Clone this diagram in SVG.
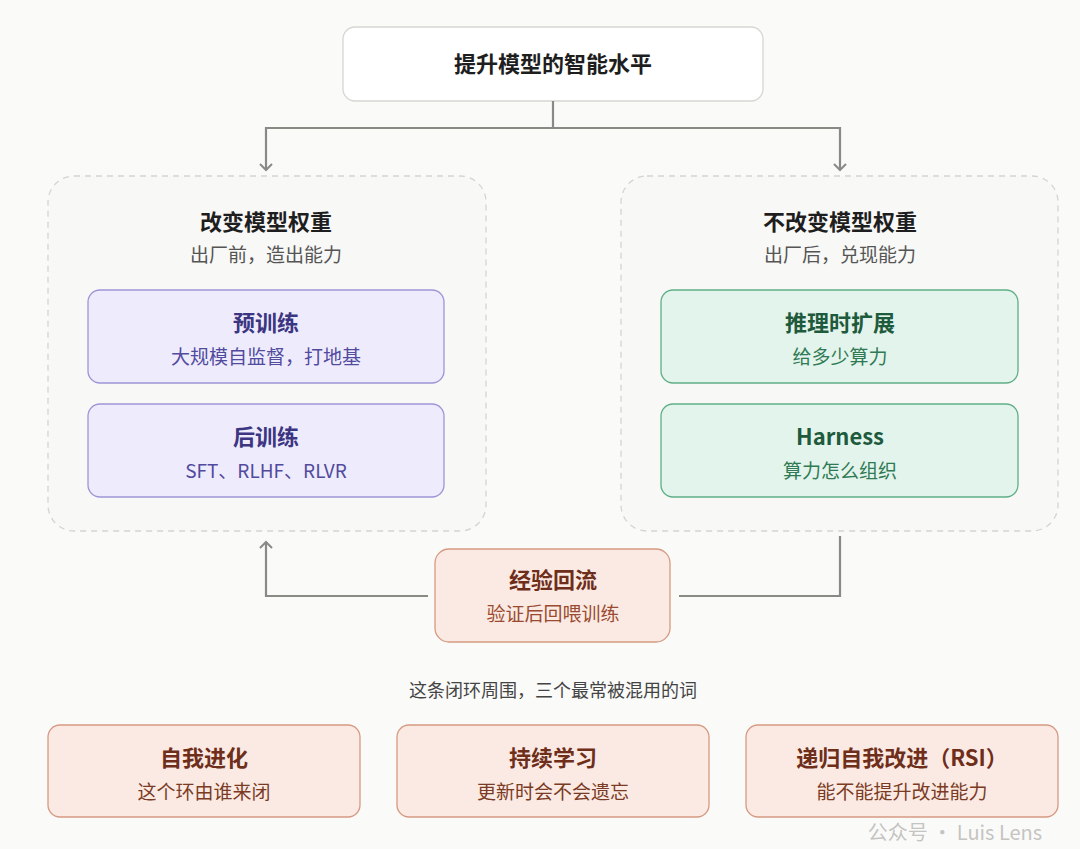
<svg xmlns="http://www.w3.org/2000/svg" width="1080" height="849" viewBox="0 0 1080 849">
<defs>
<marker id="ah" viewBox="0 0 12 14" refX="9" refY="7" markerWidth="12" markerHeight="14" orient="auto" markerUnits="userSpaceOnUse">
<path d="M3,1 L9,7 L3,13" fill="none" stroke="#8a8a85" stroke-width="2"/>
</marker>
</defs>
<style>
text{font-family:"Noto Sans CJK SC","Noto Sans",sans-serif;text-anchor:middle}
.t{font-size:22px;font-weight:700}
.s{font-size:19px}
.cont{fill:#f8f8f7;stroke:#d4d4d0;stroke-width:1.3;stroke-dasharray:6 5}
.pu{fill:#eeecfc;stroke:#9d95d8;stroke-width:1.3}
.gr{fill:#e3f4ec;stroke:#5fae86;stroke-width:1.3}
.or{fill:#fbeae3;stroke:#d69a83;stroke-width:1.3}
.ln{fill:none;stroke:#8a8a85;stroke-width:2.2}
</style>
<rect width="1080" height="849" fill="#fafaf9"/>
<g id="top"><rect x="343" y="27" width="420" height="74" rx="12" fill="#fff" stroke="#d6d6d2" stroke-width="1.3"/><text class="t" x="553" y="72" fill="#1e1e1e">提升模型的智能水平</text></g>
<g id="connectors">
<path class="ln" d="M553,101 V128 H266 V170" marker-end="url(#ah)"/>
<path class="ln" d="M553,128 H840 V170" marker-end="url(#ah)"/>
<path class="ln" d="M840,536 V596 H679"/>
<path class="ln" d="M428,596 H266 V542" marker-end="url(#ah)"/>
</g>
<g id="left"><rect class="cont" x="48" y="176" width="438" height="355" rx="26"/>
<text class="t" x="266" y="230" fill="#1e1e1e">改变模型权重</text><text class="s" x="266" y="262" fill="#555">出厂前，造出能力</text></g>
<g id="pretrain"><rect class="pu" x="88" y="290" width="356" height="93" rx="12"/><text class="t" x="266" y="331" fill="#3c3582">预训练</text><text class="s" x="266" y="364" fill="#524a9e">大规模自监督，打地基</text></g>
<g id="posttrain"><rect class="pu" x="88" y="404" width="356" height="93" rx="12"/><text class="t" x="266" y="445" fill="#3c3582">后训练</text><text class="s" x="266" y="478" fill="#524a9e">SFT、RLHF、RLVR</text></g>
<g id="right"><rect class="cont" x="621" y="176" width="437" height="355" rx="26"/>
<text class="t" x="840" y="230" fill="#1e1e1e">不改变模型权重</text><text class="s" x="840" y="262" fill="#555">出厂后，兑现能力</text></g>
<g id="infer"><rect class="gr" x="661" y="290" width="357" height="93" rx="12"/><text class="t" x="840" y="331" fill="#1e5a3c">推理时扩展</text><text class="s" x="840" y="364" fill="#2f7a54">给多少算力</text></g>
<g id="harness"><rect class="gr" x="661" y="404" width="357" height="93" rx="12"/><text class="t" x="840" y="445" fill="#1e5a3c">Harness</text><text class="s" x="840" y="478" fill="#2f7a54">算力怎么组织</text></g>
<g id="flow"><rect class="or" x="435" y="549" width="235" height="93" rx="14"/><text class="t" x="553" y="588" fill="#6e2e1a">经验回流</text><text class="s" x="553" y="621" fill="#9a4a30">验证后回喂训练</text></g>
<text x="553" y="697" fill="#444" style="font-size:18px">这条闭环周围，三个最常被混用的词</text>
<g id="evo"><rect class="or" x="48" y="725" width="312" height="92" rx="12"/><text class="t" x="204" y="766" fill="#6e2e1a">自我进化</text><text class="s" x="204" y="799" fill="#7a3a24">这个环由谁来闭</text></g>
<g id="cl"><rect class="or" x="397" y="725" width="312" height="92" rx="12"/><text class="t" x="553" y="766" fill="#6e2e1a">持续学习</text><text class="s" x="553" y="799" fill="#7a3a24">更新时会不会遗忘</text></g>
<g id="rsi"><rect class="or" x="746" y="725" width="312" height="92" rx="12"/><text class="t" x="902" y="766" fill="#6e2e1a">递归自我改进（RSI）</text><text class="s" x="902" y="799" fill="#7a3a24">能不能提升改进能力</text></g>
<text x="955" y="840" style="font-size:20px" fill="#b5b5b2" fill-opacity="0.8">公众号 · Luis Lens</text>
</svg>
